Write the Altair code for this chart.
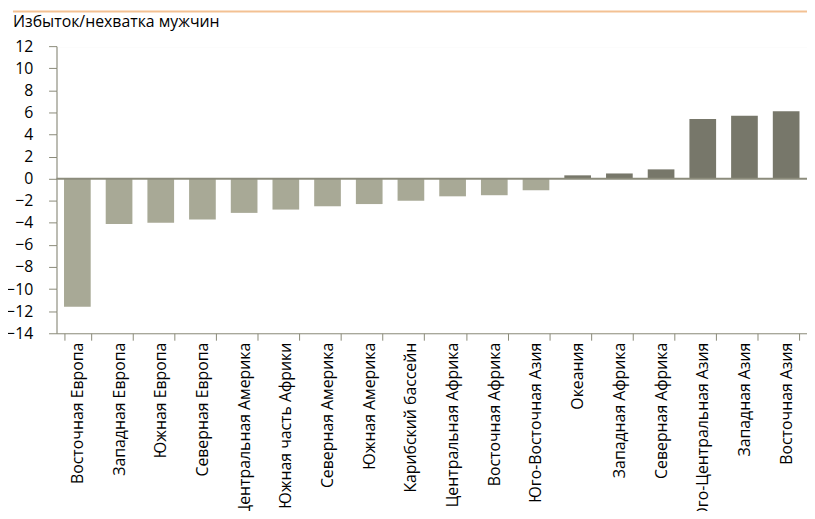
import altair as alt
import pandas as pd

regions = [
    "Восточная Европа", "Западная Европа", "Южная Европа", "Северная Европа",
    "Центральная Америка", "Южная часть Африки", "Северная Америка", "Южная Америка",
    "Карибский бассейн", "Центральная Африка", "Восточная Африка", "Юго-Восточная Азия",
    "Океания", "Западная Африка", "Северная Африка", "Юго-Центральная Азия",
    "Западная Азия", "Восточная Азия",
]
values = [-11.6, -4.1, -4.0, -3.7, -3.1, -2.8, -2.5, -2.3, -2.0, -1.6, -1.5, -1.05,
          0.3, 0.47, 0.84, 5.4, 5.7, 6.1]
y_ticks = list(range(-14, 13, 2))
title_text = ["Избыток/нехватка мужчин"]

df = pd.DataFrame({"region": regions, "value": values})

FONT = "Open Sans"
W, H = 758, 290
yscale = alt.Scale(domain=[-14, 12], nice=False, zero=False)
yaxis = alt.Axis(title=None, values=y_ticks, labelFontSize=16, labelFont=FONT,
                 labelColor="#000000", labelPadding=16, tickSize=8,
                 labelOverlap=False, labelFlush=False,
                 domainColor="#8a8a78", tickColor="#8a8a78",
                 gridColor="#ffffff", gridWidth=1.5)

bars = alt.Chart(df).mark_bar().encode(
    x=alt.X("region:N", sort=regions,
            scale=alt.Scale(paddingInner=0.36, paddingOuter=0.18),
            axis=alt.Axis(title=None, labelAngle=-90, labelAlign="right", labelBaseline="middle",
                          labelFontSize=16, labelFont=FONT, labelColor="#000000",
                          labelPadding=2, tickSize=7, tickBand="extent",
                          domainColor="#8a8a78", tickColor="#8a8a78", grid=False,
                          labelOverlap=False, labelLimit=0)),
    y=alt.Y("value:Q", scale=yscale, axis=yaxis),
    color=alt.condition(alt.datum.value > 0, alt.value("#77776a"), alt.value("#a8a996")),
)

zero = alt.Chart(pd.DataFrame({"value": [0]})).mark_rule(color="#8c8c7c", strokeWidth=2).encode(
    y=alt.Y("value:Q", scale=yscale, axis=yaxis))

top_line = alt.Chart(pd.DataFrame({"z": [0]})).mark_rule(color="#f3c193", strokeWidth=2).encode(
    x=alt.value(-44), x2=alt.value(W), y=alt.value(-35))

title = alt.Chart(pd.DataFrame({"t": title_text})).mark_text(
    align="left", baseline="alphabetic", font=FONT, fontSize=16, color="#000000"
).encode(text="t:N", x=alt.value(-44), y=alt.value(-19))

chart = alt.layer(bars, zero, top_line, title).properties(
    width=W, height=H,
    autosize=alt.AutoSizeParams(type="none"),
    padding={"left": 49, "top": 36, "right": 0, "bottom": 177},
).configure_view(fill="#efefe6", stroke=None).configure(background="#ffffff")

chart.save("out.html", embed_options={"renderer": "svg", "actions": False})
